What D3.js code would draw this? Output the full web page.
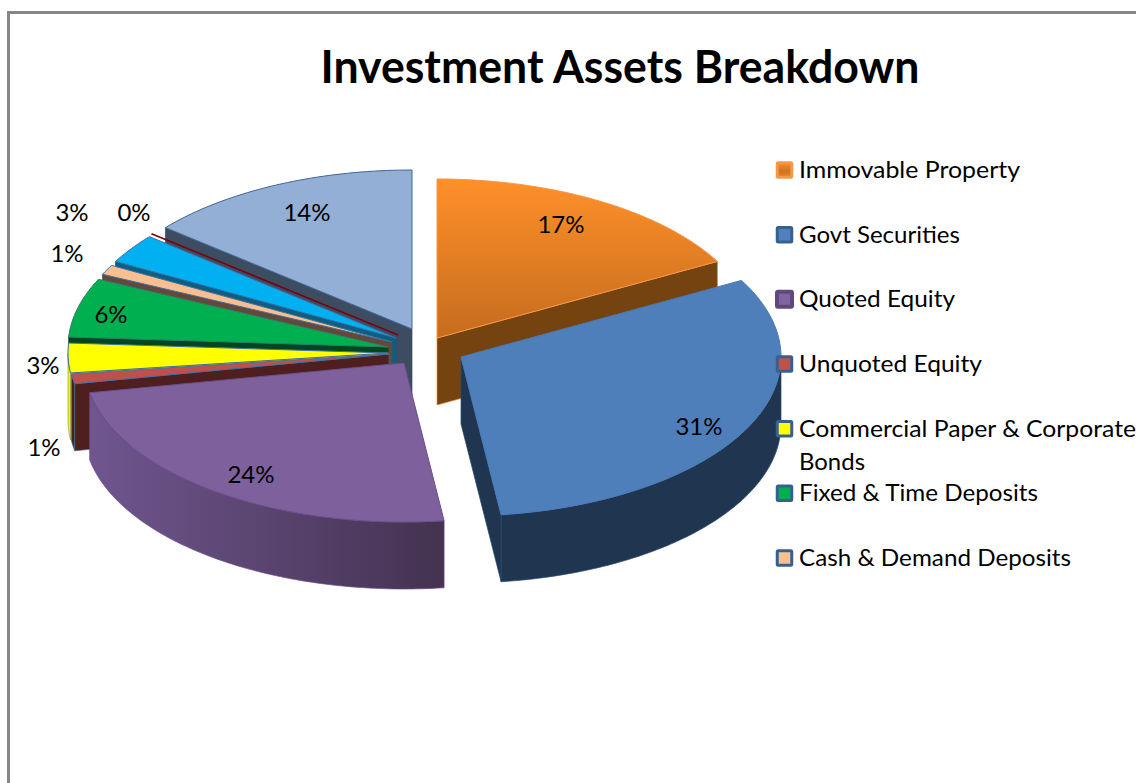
<!DOCTYPE html>
<html><head><meta charset="utf-8">
<script src="https://cdn.jsdelivr.net/npm/d3@7/dist/d3.min.js"></script>
<style>html,body{margin:0;padding:0;background:#fff;overflow:hidden}svg{display:block}text{font-family:Lato,"Open Sans",sans-serif;fill:#000}</style>
</head><body><svg id="c" width="1136" height="783"></svg>
<script>
const title = "Investment Assets Breakdown";
const categories = ["Immovable Property","Govt Securities","Quoted Equity","Unquoted Equity","Commercial Paper & Corporate Bonds","Fixed & Time Deposits","Cash & Demand Deposits","Other Deposits","Others","Investments"];
const values = [17,31,24,1,3,6,1,3,0,14];
const legendCount = 7;
// presentation
const topColors  = ["url(#gO)","#4F7FBB","#7E619C","#C0504D","#FFFF00","#00B050","#F9BF90","#00B0F0","#7A0010","#93AFD5"];
const wallColors = ["#74430F","#1F3550","url(#gP)","#4F1E1E","#F5F500","#00461F","#62493A","#0D5E80","#7A0010","#3D4D61"];
const wallEdges  = ["#E8893A","#2A4A70","#6B4E8C","#3F6FA5","#8FA05A","#00461F","#62493A","#0D5E80","#7A0010","#3D4D61"];
const edgeColors = ["#F79646","#4A7AB5","#6B4E8C","#3F6FA5","#3F6FA5","#2F7F70","#3F6FA5","#3F6FA5","#7A0010","#3F6797"];
const explodeX = [17,41,-16,-31,-32,-32,-28,-24,-22,-8];
const explodeY = [-10,9,15,6,5,-1,-6,-10,-13,-19];
const labelX = [561,699,251,44,43,111,67,72,134,307];
const labelY = [224,426,474,447,365,314,253,212,212,212];
const drawOrder = [9,8,7,6,5,4,3,0,2,1];

const cx=420, cy=348, rx=320, ry=159, depth=67;
const svg=d3.select("#c");
const defs=svg.append("defs");
const gO=defs.append("linearGradient").attr("id","gO").attr("x1",0).attr("x2",0).attr("y1",0).attr("y2",1);
gO.append("stop").attr("offset",0).attr("stop-color","#FF9029");
gO.append("stop").attr("offset",1).attr("stop-color","#C56C1E");
const gP=defs.append("linearGradient").attr("id","gP").attr("x1",0).attr("x2",1).attr("y1",0).attr("y2",0);
gP.append("stop").attr("offset",0).attr("stop-color","#6F568F");
gP.append("stop").attr("offset",1).attr("stop-color","#443250");
const gM=defs.append("linearGradient").attr("id","gM").attr("x1",0).attr("x2",0).attr("y1",0).attr("y2",1);
gM.append("stop").attr("offset",0).attr("stop-color","#F58B2A");
gM.append("stop").attr("offset",.6).attr("stop-color","#CF7420");
gM.append("stop").attr("offset",1).attr("stop-color","#E4832A");
defs.append("filter").attr("id","blur").attr("x","-300%").attr("width","700%")
  .append("feGaussianBlur").attr("stdDeviation",1.2);

// frame: only top and left edges lie inside the picture
svg.append("path").attr("d","M8.5,783V12.5H1136").attr("fill","none").attr("stroke","#878787").attr("stroke-width",3);

svg.append("text").attr("x",620).attr("y",83).attr("text-anchor","middle")
  .attr("font-size",45).attr("font-weight",700).attr("textLength",599).attr("lengthAdjust","spacingAndGlyphs").text(title);

const pie=d3.pie().sort(null).startAngle(0).endAngle(2*Math.PI)(values);
const line=d3.line();
const rim=(ap,a)=>[ap[0]+rx*Math.sin(a), ap[1]-ry*Math.cos(a)];
const arcPts=(ap,a0,a1)=>{const n=Math.max(1,Math.ceil((a1-a0)/0.02));return d3.range(n+1).map(i=>rim(ap,a0+(a1-a0)*i/n));};
const down=p=>[p[0],p[1]+depth];

// soft shadow on the open side of the first slice
const ap0=[cx+explodeX[0],cy+explodeY[0]];
svg.append("path").attr("d",line([[ap0[0]-2,ap0[1]-95],[ap0[0]-2,ap0[1]+depth]]))
  .attr("stroke","#777").attr("stroke-width",3).attr("filter","url(#blur)");

const gChart=svg.append("g");
drawOrder.forEach(i=>{
  const d=pie[i], a0=d.startAngle, a1=d.endAngle;
  const ap=[cx+explodeX[i],cy+explodeY[i]];
  const g=gChart.append("g");
  if(values[i]===0){
    g.append("path").attr("d",line([ap,rim(ap,a0)])).attr("stroke",edgeColors[i]).attr("stroke-width",1.6);
    return;
  }
  const wall=(pts)=>g.append("path").attr("d",line(pts.concat(pts.map(down).reverse()))+"Z")
      .attr("fill",wallColors[i]).attr("stroke",wallEdges[i]).attr("stroke-width",.7);
  if(Math.sin(a0)<-1e-6) wall([ap,rim(ap,a0)]);
  if(Math.sin(a1)>1e-6) wall([ap,rim(ap,a1)]);
  const lo=Math.max(a0,Math.PI/2), hi=Math.min(a1,3*Math.PI/2);
  if(hi>lo) wall(arcPts(ap,lo,hi));
  g.append("path").attr("d",line([ap].concat(arcPts(ap,a0,a1)))+"Z")
    .attr("fill",topColors[i]).attr("stroke",edgeColors[i]).attr("stroke-width",1).attr("stroke-linejoin","round");
});

// data labels
svg.append("g").selectAll("text").data(values).join("text")
  .attr("x",(d,i)=>labelX[i]).attr("y",(d,i)=>labelY[i]).attr("dy","0.36em")
  .attr("text-anchor","middle").attr("font-size",24).text(d=>d+"%");

// legend
const legendY=d3.scalePoint().domain(d3.range(legendCount)).range([170,558]);
const legend=svg.append("g");
const markerFill=["url(#gM)","#4F81BD","#8064A2","#C0504D","#FFFF00","#00B050","#FBC08F"];
const markerEdge=["#F79646","#376092","#5F497A","#376092","#376092","#376092","#376092"];
const textWidth=[221,161,156,183,337,239,272];
categories.slice(0,legendCount).forEach((c,i)=>{
  const y=legendY(i), s=i===2?15:14.5;
  legend.append("rect").attr("x",784.5-s/2).attr("y",y-s/2).attr("width",s).attr("height",s).attr("rx",1)
    .attr("fill",markerFill[i]).attr("stroke",markerEdge[i]).attr("stroke-width",i===2?4:3);
  const first = i===4 ? "Commercial Paper & Corporate" : c;
  legend.append("text").attr("x",799).attr("y",y+8).attr("font-size",24).attr("textLength",textWidth[i]).attr("lengthAdjust","spacingAndGlyphs").text(first);
  if(i===4) legend.append("text").attr("x",799).attr("y",y+41).attr("font-size",24).attr("textLength",66).attr("lengthAdjust","spacingAndGlyphs").text("Bonds");
});
</script></body></html>
